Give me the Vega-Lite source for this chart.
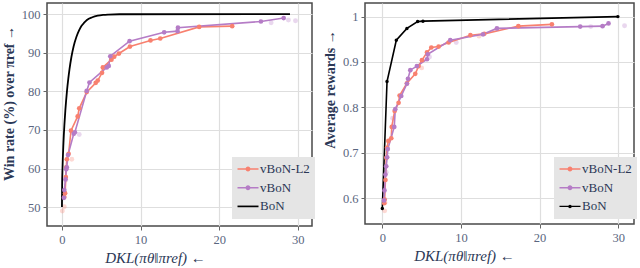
{
  "$schema": "https://vega.github.io/schema/vega-lite/v6.json",
  "padding": {"left": 1, "top": 2, "right": 0, "bottom": 0},
  "background": "white",
  "config": {
    "view": {"stroke": "#4a4a4a", "strokeWidth": 1.5},
    "axis": {"domain": false, "grid": true, "gridColor": "#dedede", "gridWidth": 1.2, "tickColor": "#666", "tickSize": 4, "labelFont": "Liberation Serif", "labelFontSize": 12.5, "labelColor": "#5a6680", "titleFont": "Liberation Serif", "titleFontSize": 14, "titleColor": "#2b3856", "labelPadding": 3},
    "legend": {"orient": "none", "fillColor": "#e5e5e5", "padding": 5, "labelFont": "Liberation Serif", "labelFontSize": 13, "labelColor": "#2b3856", "symbolSize": 196, "symbolOffset": 4, "labelOffset": 5, "rowPadding": 4.7, "title": null}
  },
  "datasets": {
    "left": [
      {"s": "BoN", "k": "m", "x": 0, "y": 50},
      {"s": "BoN", "k": "m", "x": 0.023, "y": 55.6},
      {"s": "BoN", "k": "m", "x": 0.072, "y": 60},
      {"s": "BoN", "k": "m", "x": 0.193, "y": 66.7},
      {"s": "BoN", "k": "m", "x": 0.316, "y": 71.4},
      {"s": "BoN", "k": "m", "x": 0.432, "y": 75},
      {"s": "BoN", "k": "m", "x": 0.636, "y": 80},
      {"s": "BoN", "k": "m", "x": 0.809, "y": 83.3},
      {"s": "BoN", "k": "m", "x": 0.958, "y": 85.7},
      {"s": "BoN", "k": "m", "x": 1.204, "y": 88.9},
      {"s": "BoN", "k": "m", "x": 1.489, "y": 91.7},
      {"s": "BoN", "k": "m", "x": 1.835, "y": 94.1},
      {"s": "BoN", "k": "m", "x": 2.179, "y": 95.8},
      {"s": "BoN", "k": "m", "x": 2.497, "y": 97.0},
      {"s": "BoN", "k": "m", "x": 2.829, "y": 97.8},
      {"s": "BoN", "k": "m", "x": 3.175, "y": 98.5},
      {"s": "BoN", "k": "m", "x": 3.86, "y": 99.2},
      {"s": "BoN", "k": "m", "x": 4.549, "y": 99.6},
      {"s": "BoN", "k": "m", "x": 5.24, "y": 99.8},
      {"s": "BoN", "k": "m", "x": 5.932, "y": 99.9},
      {"s": "BoN", "k": "m", "x": 7.318, "y": 99.98},
      {"s": "BoN", "k": "m", "x": 29.0, "y": 100},
      {"s": "vBoN-L2", "k": "m", "x": 0.30, "y": 52.6},
      {"s": "vBoN-L2", "k": "m", "x": 0.40, "y": 53.6},
      {"s": "vBoN-L2", "k": "m", "x": 0.50, "y": 57.8},
      {"s": "vBoN-L2", "k": "m", "x": 0.55, "y": 60.3},
      {"s": "vBoN-L2", "k": "m", "x": 0.62, "y": 62.4},
      {"s": "vBoN-L2", "k": "m", "x": 0.85, "y": 63.8},
      {"s": "vBoN-L2", "k": "m", "x": 1.15, "y": 69.8},
      {"s": "vBoN-L2", "k": "m", "x": 2.0, "y": 73.5},
      {"s": "vBoN-L2", "k": "m", "x": 2.2, "y": 75.6},
      {"s": "vBoN-L2", "k": "m", "x": 3.15, "y": 79.8},
      {"s": "vBoN-L2", "k": "m", "x": 4.3, "y": 82.2},
      {"s": "vBoN-L2", "k": "m", "x": 4.55, "y": 82.8},
      {"s": "vBoN-L2", "k": "m", "x": 5.1, "y": 84.8},
      {"s": "vBoN-L2", "k": "m", "x": 5.2, "y": 86.2},
      {"s": "vBoN-L2", "k": "m", "x": 6.3, "y": 88.2},
      {"s": "vBoN-L2", "k": "m", "x": 6.65, "y": 89.0},
      {"s": "vBoN-L2", "k": "m", "x": 7.25, "y": 89.8},
      {"s": "vBoN-L2", "k": "m", "x": 8.65, "y": 91.6},
      {"s": "vBoN-L2", "k": "m", "x": 11.26, "y": 93.2},
      {"s": "vBoN-L2", "k": "m", "x": 12.5, "y": 93.7},
      {"s": "vBoN-L2", "k": "m", "x": 17.45, "y": 96.7},
      {"s": "vBoN-L2", "k": "m", "x": 21.65, "y": 96.9},
      {"s": "vBoN", "k": "m", "x": 0.25, "y": 52.4},
      {"s": "vBoN", "k": "m", "x": 0.30, "y": 54.4},
      {"s": "vBoN", "k": "m", "x": 0.45, "y": 57.2},
      {"s": "vBoN", "k": "m", "x": 0.55, "y": 59.8},
      {"s": "vBoN", "k": "m", "x": 0.62, "y": 60.3},
      {"s": "vBoN", "k": "m", "x": 0.77, "y": 63.5},
      {"s": "vBoN", "k": "m", "x": 1.5, "y": 69.0},
      {"s": "vBoN", "k": "m", "x": 1.65, "y": 69.4},
      {"s": "vBoN", "k": "m", "x": 3.15, "y": 80.1},
      {"s": "vBoN", "k": "m", "x": 3.5, "y": 82.3},
      {"s": "vBoN", "k": "m", "x": 5.7, "y": 86.2},
      {"s": "vBoN", "k": "m", "x": 5.95, "y": 86.6},
      {"s": "vBoN", "k": "m", "x": 6.15, "y": 89.1},
      {"s": "vBoN", "k": "m", "x": 8.6, "y": 93.0},
      {"s": "vBoN", "k": "m", "x": 13.0, "y": 95.3},
      {"s": "vBoN", "k": "m", "x": 14.7, "y": 95.6},
      {"s": "vBoN", "k": "m", "x": 14.75, "y": 96.5},
      {"s": "vBoN", "k": "m", "x": 25.3, "y": 98.1},
      {"s": "vBoN", "k": "m", "x": 28.2, "y": 99.0},
      {"s": "vBoN-L2", "k": "f", "x": 0.05, "y": 49.0},
      {"s": "vBoN-L2", "k": "f", "x": 0.3, "y": 50.1},
      {"s": "vBoN-L2", "k": "f", "x": 1.25, "y": 62.4},
      {"s": "vBoN", "k": "f", "x": 0.5, "y": 57.0},
      {"s": "vBoN", "k": "f", "x": 2.2, "y": 68.8},
      {"s": "vBoN", "k": "f", "x": 26.6, "y": 97.8},
      {"s": "vBoN", "k": "f", "x": 28.8, "y": 98.5},
      {"s": "vBoN", "k": "f", "x": 29.7, "y": 98.3}
    ],
    "right": [
      {"s": "BoN", "k": "m", "x": 0, "y": 0.577},
      {"s": "BoN", "k": "m", "x": 0.6, "y": 0.857},
      {"s": "BoN", "k": "m", "x": 1.78, "y": 0.948},
      {"s": "BoN", "k": "m", "x": 3.13, "y": 0.974},
      {"s": "BoN", "k": "m", "x": 4.49, "y": 0.989},
      {"s": "BoN", "k": "m", "x": 5.17, "y": 0.990},
      {"s": "BoN", "k": "m", "x": 29.95, "y": 1.0},
      {"s": "vBoN-L2", "k": "m", "x": 0.25, "y": 0.589},
      {"s": "vBoN-L2", "k": "m", "x": 0.3, "y": 0.597},
      {"s": "vBoN-L2", "k": "m", "x": 0.4, "y": 0.64},
      {"s": "vBoN-L2", "k": "m", "x": 0.5, "y": 0.689},
      {"s": "vBoN-L2", "k": "m", "x": 0.6, "y": 0.711},
      {"s": "vBoN-L2", "k": "m", "x": 0.77, "y": 0.726},
      {"s": "vBoN-L2", "k": "m", "x": 1.14, "y": 0.732},
      {"s": "vBoN-L2", "k": "m", "x": 1.2, "y": 0.757},
      {"s": "vBoN-L2", "k": "m", "x": 1.57, "y": 0.792},
      {"s": "vBoN-L2", "k": "m", "x": 2.07, "y": 0.810},
      {"s": "vBoN-L2", "k": "m", "x": 2.2, "y": 0.826},
      {"s": "vBoN-L2", "k": "m", "x": 3.13, "y": 0.853},
      {"s": "vBoN-L2", "k": "m", "x": 4.19, "y": 0.874},
      {"s": "vBoN-L2", "k": "m", "x": 4.62, "y": 0.891},
      {"s": "vBoN-L2", "k": "m", "x": 5.04, "y": 0.904},
      {"s": "vBoN-L2", "k": "m", "x": 5.68, "y": 0.921},
      {"s": "vBoN-L2", "k": "m", "x": 6.23, "y": 0.932},
      {"s": "vBoN-L2", "k": "m", "x": 7.16, "y": 0.934},
      {"s": "vBoN-L2", "k": "m", "x": 8.43, "y": 0.943},
      {"s": "vBoN-L2", "k": "m", "x": 11.2, "y": 0.959},
      {"s": "vBoN-L2", "k": "m", "x": 12.96, "y": 0.962},
      {"s": "vBoN-L2", "k": "m", "x": 17.3, "y": 0.979},
      {"s": "vBoN-L2", "k": "m", "x": 21.56, "y": 0.983},
      {"s": "vBoN", "k": "m", "x": 0.22, "y": 0.595},
      {"s": "vBoN", "k": "m", "x": 0.28, "y": 0.617},
      {"s": "vBoN", "k": "m", "x": 0.4, "y": 0.652},
      {"s": "vBoN", "k": "m", "x": 0.5, "y": 0.670},
      {"s": "vBoN", "k": "m", "x": 0.62, "y": 0.690},
      {"s": "vBoN", "k": "m", "x": 0.7, "y": 0.708},
      {"s": "vBoN", "k": "m", "x": 1.52, "y": 0.757},
      {"s": "vBoN", "k": "m", "x": 1.65, "y": 0.796},
      {"s": "vBoN", "k": "m", "x": 2.41, "y": 0.825},
      {"s": "vBoN", "k": "m", "x": 3.13, "y": 0.852},
      {"s": "vBoN", "k": "m", "x": 3.26, "y": 0.863},
      {"s": "vBoN", "k": "m", "x": 3.56, "y": 0.882},
      {"s": "vBoN", "k": "m", "x": 4.4, "y": 0.891},
      {"s": "vBoN", "k": "m", "x": 5.68, "y": 0.906},
      {"s": "vBoN", "k": "m", "x": 5.78, "y": 0.917},
      {"s": "vBoN", "k": "m", "x": 8.64, "y": 0.948},
      {"s": "vBoN", "k": "m", "x": 12.8, "y": 0.961},
      {"s": "vBoN", "k": "m", "x": 14.57, "y": 0.974},
      {"s": "vBoN", "k": "m", "x": 25.16, "y": 0.978},
      {"s": "vBoN", "k": "m", "x": 28.0, "y": 0.979},
      {"s": "vBoN", "k": "m", "x": 28.76, "y": 0.985},
      {"s": "vBoN-L2", "k": "f", "x": 0.3, "y": 0.572},
      {"s": "vBoN-L2", "k": "f", "x": 0.35, "y": 0.59},
      {"s": "vBoN", "k": "f", "x": 0.5, "y": 0.657},
      {"s": "vBoN", "k": "f", "x": 1.31, "y": 0.776},
      {"s": "vBoN-L2", "k": "f", "x": 5.0, "y": 0.887},
      {"s": "vBoN", "k": "f", "x": 6.0, "y": 0.911},
      {"s": "vBoN", "k": "f", "x": 9.4, "y": 0.943},
      {"s": "vBoN-L2", "k": "f", "x": 12.3, "y": 0.957},
      {"s": "vBoN", "k": "f", "x": 26.5, "y": 0.978},
      {"s": "vBoN", "k": "f", "x": 30.8, "y": 0.98}
    ]
  },
  "hconcat": [
    {
      "width": 265, "height": 223,
      "data": {"name": "left"},
      "encoding": {
        "x": {"field": "x", "type": "quantitative", "scale": {"domain": [-1.9, 31.8], "nice": false, "zero": false}, "axis": {"values": [0, 10, 20, 30], "title": "DKL(πθ‖πref) ←", "titleFontStyle": "italic", "titleFontWeight": "normal", "titleFontSize": 15, "titlePadding": 5, "titleX": 108}},
        "y": {"field": "y", "type": "quantitative", "scale": {"domain": [45.1, 102.9], "nice": false, "zero": false}, "axis": {"values": [50, 60, 70, 80, 90, 100], "title": "Win rate (%) over πref →", "titleFontWeight": "bold", "titlePadding": 5, "titleY": 100}},
        "color": {"field": "s", "type": "nominal", "scale": {"domain": ["vBoN-L2", "vBoN", "BoN"], "range": ["#f8806f", "#b57cc6", "#000000"]},
          "legend": {"legendX": 185, "legendY": 154, "encode": {"symbols": {"update": {
            "shape": {"signal": "datum.value === 'BoN' ? 'M-1.5,-0.12H1.5V0.12H-1.5Z' : 'M-1.5,-0.1H1.5V0.1H-1.5Z M0.35,0A0.35,0.35 0 1,1 -0.35,0A0.35,0.35 0 1,1 0.35,0Z'"},
            "fill": {"signal": "datum.value === 'vBoN-L2' ? '#f8806f' : datum.value === 'vBoN' ? '#b57cc6' : '#000000'"},
            "stroke": {"value": "transparent"}, "strokeWidth": {"value": 0}, "opacity": {"value": 1}}}}}}
      },
      "layer": [
        {"transform": [{"filter": "datum.k === 'f'"}], "mark": {"type": "point", "filled": true, "size": 24, "opacity": 0.3}},
        {"transform": [{"filter": "datum.k === 'm' && datum.s !== 'BoN'"}], "mark": {"type": "line", "strokeWidth": 1.6}},
        {"transform": [{"filter": "datum.k === 'm' && datum.s === 'BoN'"}], "mark": {"type": "line", "strokeWidth": 1.8, "interpolate": "monotone"}},
        {"transform": [{"filter": "datum.k === 'm' && datum.s !== 'BoN'"}], "mark": {"type": "point", "filled": true, "size": 22, "opacity": 1}}
      ]
    },
    {
      "width": 269, "height": 221,
      "data": {"name": "right"},
      "encoding": {
        "x": {"field": "x", "type": "quantitative", "scale": {"domain": [-2.2, 32.0], "nice": false, "zero": false}, "axis": {"values": [0, 10, 20, 30], "title": "DKL(πθ‖πref) ←", "titleFontStyle": "italic", "titleFontWeight": "normal", "titleFontSize": 15, "titlePadding": 5, "titleX": 99}},
        "y": {"field": "y", "type": "quantitative", "scale": {"domain": [0.543, 1.03], "nice": false, "zero": false}, "axis": {"values": [0.6, 0.7, 0.8, 0.9, 1.0], "format": "~g", "title": "Average rewards →", "titleFontWeight": "bold", "titlePadding": 5, "titleY": 86}},
        "color": {"field": "s", "type": "nominal", "scale": {"domain": ["vBoN-L2", "vBoN", "BoN"], "range": ["#f8806f", "#b57cc6", "#000000"]},
          "legend": {"legendX": 189, "legendY": 154, "encode": {"symbols": {"update": {
            "shape": {"signal": "datum.value === 'BoN' ? 'M-1.5,-0.1H1.5V0.1H-1.5Z M0.25,0A0.25,0.25 0 1,1 -0.25,0A0.25,0.25 0 1,1 0.25,0Z' : 'M-1.5,-0.1H1.5V0.1H-1.5Z M0.35,0A0.35,0.35 0 1,1 -0.35,0A0.35,0.35 0 1,1 0.35,0Z'"},
            "fill": {"signal": "datum.value === 'vBoN-L2' ? '#f8806f' : datum.value === 'vBoN' ? '#b57cc6' : '#000000'"},
            "stroke": {"value": "transparent"}, "strokeWidth": {"value": 0}, "opacity": {"value": 1}}}}}}
      },
      "layer": [
        {"transform": [{"filter": "datum.k === 'f'"}], "mark": {"type": "point", "filled": true, "size": 24, "opacity": 0.3}},
        {"transform": [{"filter": "datum.k === 'm'"}], "mark": {"type": "line", "strokeWidth": 1.6}},
        {"transform": [{"filter": "datum.k === 'm' && datum.s !== 'BoN'"}], "mark": {"type": "point", "filled": true, "size": 22, "opacity": 1}},
        {"transform": [{"filter": "datum.k === 'm' && datum.s === 'BoN'"}], "mark": {"type": "point", "filled": true, "size": 12, "opacity": 1}}
      ]
    }
  ],
  "spacing": 6,
  "resolve": {"scale": {"color": "independent"}, "legend": {"color": "independent"}}
}
